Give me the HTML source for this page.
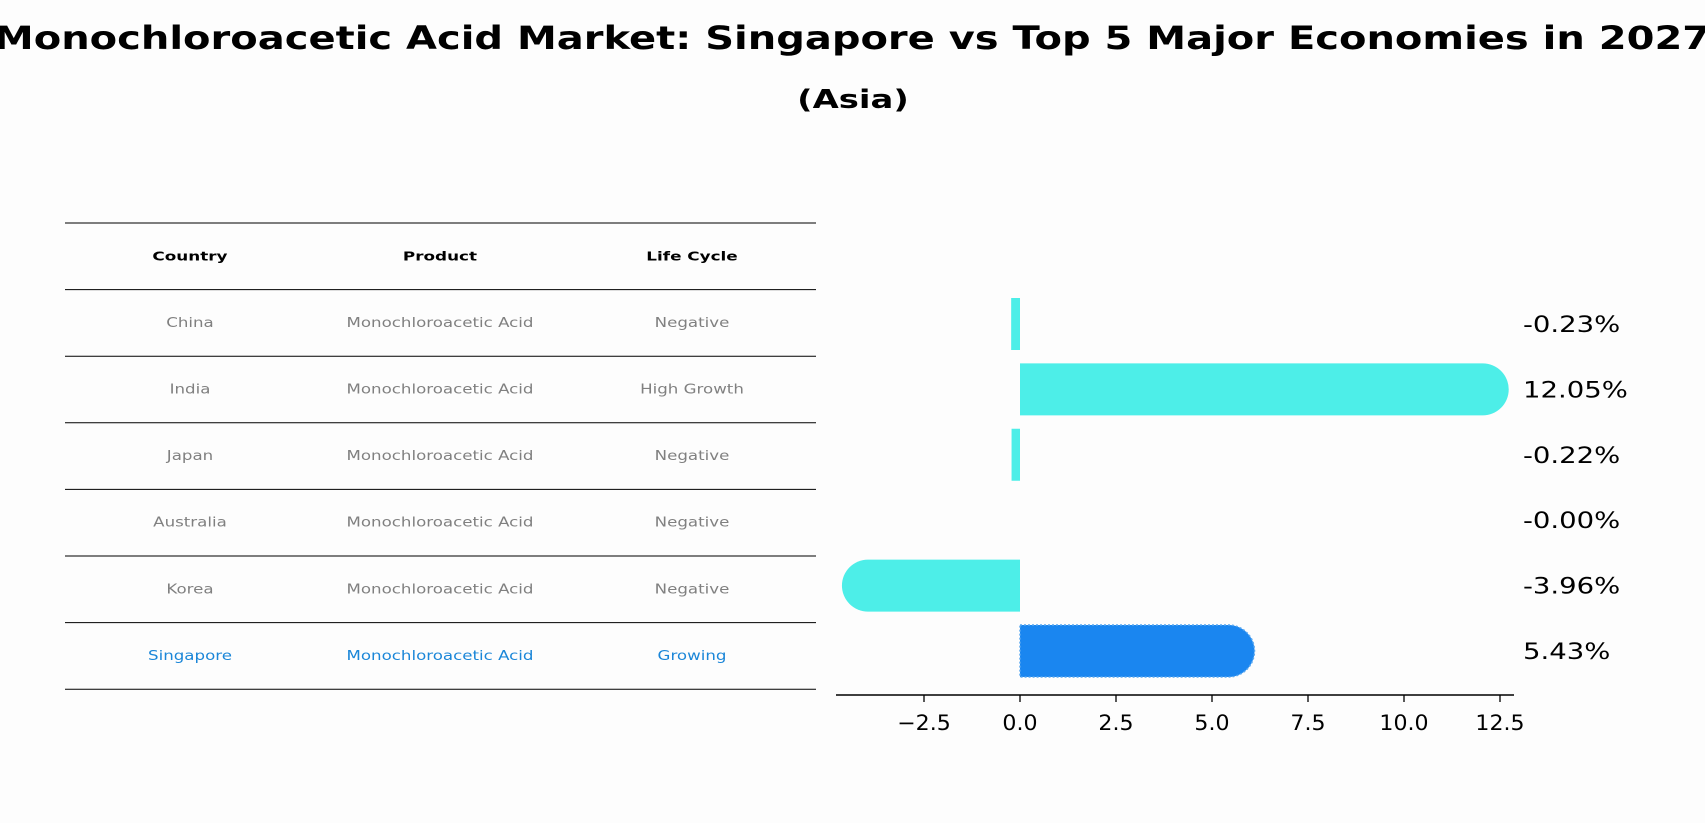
<!DOCTYPE html>
<html><head><meta charset="utf-8"><style>
body{margin:0;background:#fdfdfd;font-family:"DejaVu Sans","Liberation Sans",sans-serif;}
#wrap{position:relative;width:1705px;height:823px;overflow:hidden;}
</style></head><body>
<div id="wrap">
<svg id="svg" width="1705" height="823" xmlns="http://www.w3.org/2000/svg" style="font-family:'DejaVu Sans','Liberation Sans',sans-serif">
<text id="title" x="852" y="49" text-anchor="middle" font-size="32" font-weight="bold" fill="#000">Monochloroacetic Acid Market: Singapore vs Top 5 Major Economies in 2027</text>
<text id="subtitle" x="853" y="108" text-anchor="middle" font-size="26" font-weight="bold" fill="#000">(Asia)</text>
<g id="table"></g>
<g id="chart"></g>
</svg>
</div>
<script>
const countries=["China","India","Japan","Australia","Korea","Singapore"];
const products=["Monochloroacetic Acid","Monochloroacetic Acid","Monochloroacetic Acid","Monochloroacetic Acid","Monochloroacetic Acid","Monochloroacetic Acid"];
const lifeCycles=["Negative","High Growth","Negative","Negative","Negative","Growing"];
const growthValues=[-0.23,12.05,-0.22,-0.00,-3.96,5.43];
const valueLabels=["-0.23%","12.05%","-0.22%","-0.00%","-3.96%","5.43%"];
const xTicks=[-2.5,0.0,2.5,5.0,7.5,10.0,12.5];
const xTickLabels=["\u22122.5","0.0","2.5","5.0","7.5","10.0","12.5"];

const NS="http://www.w3.org/2000/svg";
function mk(tag,attrs,parent){const e=document.createElementNS(NS,tag);for(const k in attrs)e.setAttribute(k,attrs[k]);parent.appendChild(e);return e;}
function stretch(t,k){const w=t.getComputedTextLength();t.setAttribute('textLength',(w*k).toFixed(1));t.setAttribute('lengthAdjust','spacingAndGlyphs');}
const table=document.getElementById('table');
const chart=document.getElementById('chart');
stretch(document.getElementById('title'),1.25);
stretch(document.getElementById('subtitle'),1.3);

const tTop=223,rowH=66.6,tL=65,tR=816,colX=[190,440,692];
for(let i=0;i<=countries.length+1;i++){
  const l=mk('line',{x1:tL,x2:tR,y1:tTop+i*rowH,y2:tTop+i*rowH,stroke:'#000','stroke-width':1},table);
  
  
}
const headers=["Country","Product","Life Cycle"];
headers.forEach((h,j)=>{
  const t=mk('text',{x:colX[j],y:tTop+rowH/2+4,'text-anchor':'middle','font-size':12,'font-weight':'bold',fill:'#000'},table);
  t.textContent=h;
  
  
  stretch(t,1.4);
});
countries.forEach((c,i)=>{
  const col=c==="Singapore"?'#1a86d8':'#808080';
  [c,products[i],lifeCycles[i]].forEach((v,j)=>{
    const t=mk('text',{x:colX[j],y:tTop+(i+1.5)*rowH+4,'text-anchor':'middle','font-size':13,fill:col},table);
    t.textContent=v;
    
    
    stretch(t,1.28);
  });
});

const x0=1020,unit=38.4,barH=52,axisY=695,row0=324,rowStep=65.4;
const xs=v=>x0+v*unit;
const ys=i=>row0+i*rowStep;
const ax=mk('line',{x1:836,x2:1514,y1:axisY,y2:axisY,stroke:'#000','stroke-width':1.5},chart);


xTicks.forEach((v,k)=>{
  const tk=mk('line',{x1:xs(v),x2:xs(v),y1:axisY,y2:axisY+7,stroke:'#000','stroke-width':1.3},chart);
  
  
  const t=mk('text',{x:xs(v),y:axisY+35,'text-anchor':'middle','font-size':21,fill:'#000'},chart);
  t.textContent=xTickLabels[k];
  
  
  stretch(t,1.05);
});
growthValues.forEach((v,i)=>{
  const sg=countries[i]==="Singapore";
  const fill=sg?'#1a86f0':'#4deee8';
  const yc=ys(i),top=yc-barH/2,r=barH/2;
  const xe=xs(v);
  let d;
  if(Math.abs(v)>1){
    const dir=v>0?1:-1;
    d=`M${x0},${top} L${xe},${top} A${r},${r} 0 0 ${dir>0?1:0} ${xe},${top+barH} L${x0},${top+barH} Z`;
  }else{
    const a=Math.min(x0,xe),b=Math.max(x0,xe);
    d=`M${a},${top} L${b},${top} L${b},${top+barH} L${a},${top+barH} Z`;
  }
  const attrs={d:d,fill:fill};
  if(sg){attrs.stroke='#5aa8f0';attrs['stroke-width']=1.5;attrs['stroke-dasharray']='2,2';}
  const p=mk('path',attrs,chart);
  
  
  const t=mk('text',{x:1523,y:yc+8,'font-size':22,fill:'#000'},chart);
  t.textContent=valueLabels[i];
  
  
  stretch(t,1.25);
});
</script>
</body></html>
